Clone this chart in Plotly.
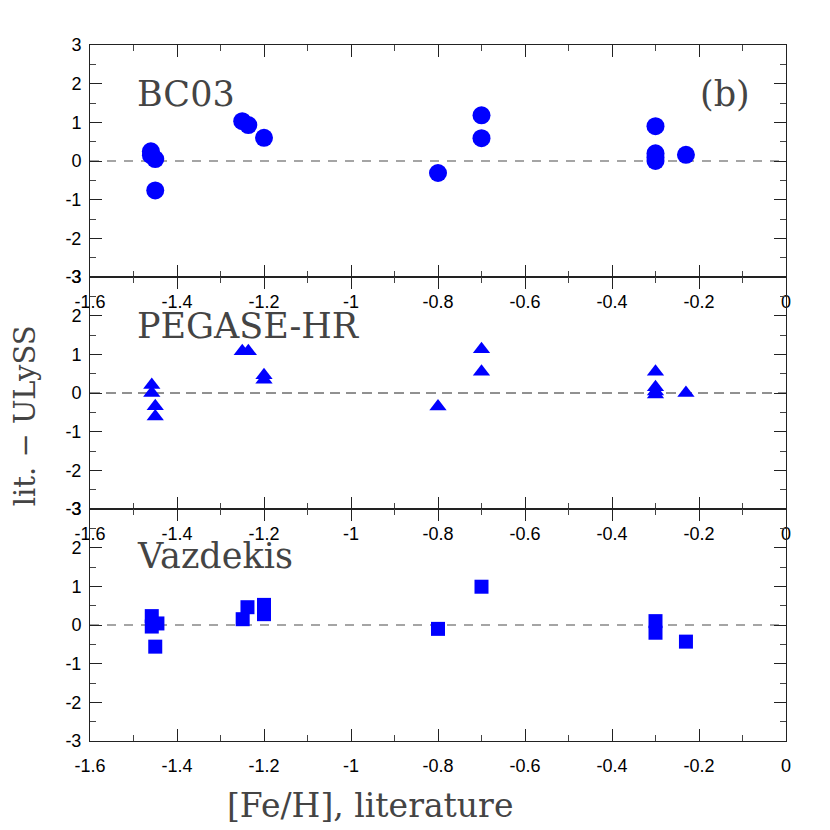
import plotly.graph_objects as go
from plotly.subplots import make_subplots

# [Fe/H] literature vs (lit. - ULySS) residuals for the three model libraries
bc03_feh = [-1.46, -1.46, -1.45, -1.45, -1.25, -1.236, -1.20,
            -0.80, -0.70, -0.70, -0.30, -0.30, -0.30, -0.30, -0.23]
bc03_diff = [0.25, 0.15, 0.05, -0.76, 1.03, 0.93, 0.60,
             -0.31, 1.18, 0.59, 0.90, 0.20, 0.10, 0.00, 0.16]

pegase_feh = [-1.458, -1.458, -1.45, -1.45, -1.25, -1.236, -1.20, -1.20,
              -0.80, -0.70, -0.70, -0.30, -0.30, -0.30, -0.30, -0.23]
pegase_diff = [0.21, 0.00, -0.34, -0.61, 1.08, 1.08, 0.46, 0.34,
               -0.35, 1.13, 0.55, 0.55, 0.15, 0.04, -0.04, 0.00]

vaz_feh = [-1.458, -1.458, -1.445, -1.45, -1.249, -1.238, -1.20, -1.20,
           -0.80, -0.70, -0.30, -0.30, -0.23]
vaz_diff = [0.23, -0.04, 0.04, -0.56, 0.15, 0.46, 0.52, 0.28,
            -0.10, 0.99, 0.10, -0.20, -0.43]

panel_names = ['BC03', 'PEGASE-HR', 'Vazdekis']
panel_label_y = [1.72, 1.74, 1.78]

xtick_vals = [-1.6, -1.4, -1.2, -1.0, -0.8, -0.6, -0.4, -0.2, 0.0]
xtick_text = ['-1.6', '-1.4', '-1.2', '-1', '-0.8', '-0.6', '-0.4', '-0.2', '0']
ytick_vals = [-3, -2, -1, 0, 1, 2, 3]
ytick_text = ['-3', '-2', '-1', '0', '1', '2', '3']

BLUE = '#0000ff'
TEXT = '#444444'
SERIF = 'DejaVu Serif'

fig = make_subplots(rows=3, cols=1, vertical_spacing=0)

series = [
    (bc03_feh, bc03_diff, 'circle', 18),
    (pegase_feh, pegase_diff, 'triangle-up', 15),
    (vaz_feh, vaz_diff, 'square', 14),
]
zero_styles = [('#888888', '9px,8px', 1.4), ('#222222', '10px,6px', 1), ('#888888', '9px,8px', 1.4)]

for i, (xs, ys, sym, size) in enumerate(series, start=1):
    color, dash, width = zero_styles[i - 1]
    fig.add_trace(go.Scatter(
        x=[-1.6, 0.0], y=[0, 0], mode='lines',
        line=dict(color=color, dash=dash, width=width),
        hoverinfo='skip'
    ), row=i, col=1)
    fig.add_trace(go.Scatter(
        x=xs, y=ys, mode='markers',
        marker=dict(symbol=sym, size=size, color=BLUE, line=dict(width=0)),
        name=panel_names[i - 1]
    ), row=i, col=1)

    fig.update_xaxes(
        range=[-1.6, 0], tickmode='array', tickvals=xtick_vals, ticktext=xtick_text,
        ticks='inside', ticklen=12, tickcolor='#222', showline=True, linecolor='#222',
        mirror='ticks', showgrid=False, zeroline=False, ticklabelstandoff=8,
        tickfont=dict(family='Liberation Sans', size=18, color='black'),
        minor=dict(ticks='inside', ticklen=6, tick0=0, dtick=0.1, tickcolor='#444'),
        automargin=False, row=i, col=1
    )
    fig.update_yaxes(
        range=[-3, 3], tickmode='array', tickvals=ytick_vals, ticktext=ytick_text,
        ticks='inside', ticklen=12, tickcolor='#222', showline=True, linecolor='#222',
        mirror='ticks', showgrid=False, zeroline=False, ticklabelstandoff=4,
        tickfont=dict(family='Liberation Sans', size=18, color='black'),
        minor=dict(ticks='inside', ticklen=6, tick0=0, dtick=0.5, tickcolor='#444'),
        automargin=False, row=i, col=1
    )

    xref = 'x' if i == 1 else f'x{i}'
    yref = 'y' if i == 1 else f'y{i}'
    fig.add_annotation(
        x=-1.497, y=panel_label_y[i - 1], xref=xref, yref=yref,
        text=panel_names[i - 1], showarrow=False, xanchor='left', yanchor='middle',
        font=dict(family=SERIF, size=35, color=TEXT)
    )

fig.add_annotation(
    x=-0.078, y=1.72, xref='x', yref='y', text='(b)', showarrow=False,
    xanchor='right', yanchor='middle', font=dict(family=SERIF, size=35, color=TEXT)
)

fig.add_annotation(
    x=-0.093, y=0.467, xref='paper', yref='paper', text='lit. \u2212 ULySS',
    textangle=-90, showarrow=False, xanchor='center', yanchor='middle',
    font=dict(family=SERIF, size=29, color=TEXT)
)
fig.add_annotation(
    x=0.402, y=-0.092, xref='paper', yref='paper', text='[Fe/H], literature',
    showarrow=False, xanchor='center', yanchor='middle',
    font=dict(family=SERIF, size=33, color=TEXT)
)

fig.update_layout(
    width=830, height=830,
    margin=dict(l=82, r=52, t=37, b=97),
    plot_bgcolor='white', paper_bgcolor='white',
    showlegend=False
)

fig.write_html('out.html')
